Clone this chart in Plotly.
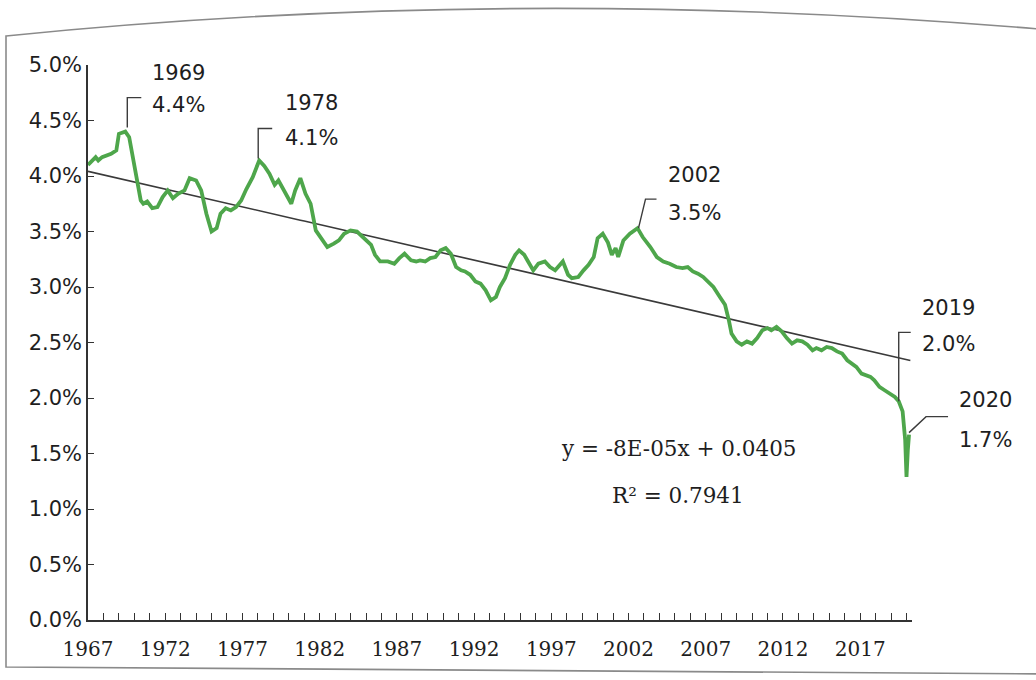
import pandas as pd
import plotly.graph_objects as go

# ---- data -------------------------------------------------------------
months = [
    "1967-01", "1967-07", "1967-09", "1967-12", "1968-07", "1968-11", "1969-01", "1969-06",
    "1969-09", "1969-12", "1970-03", "1970-06", "1970-08", "1970-11", "1971-03", "1971-07",
    "1971-11", "1972-03", "1972-07", "1972-11", "1973-04", "1973-08", "1974-01", "1974-05",
    "1974-09", "1975-01", "1975-05", "1975-08", "1975-12", "1976-04", "1976-08", "1976-12",
    "1977-04", "1977-09", "1978-02", "1978-06", "1978-10", "1979-02", "1979-05", "1979-09",
    "1980-03", "1980-06", "1980-10", "1981-02", "1981-06", "1981-10", "1982-02", "1982-07",
    "1982-12", "1983-04", "1983-08", "1984-01", "1984-06", "1984-11", "1985-05", "1985-08",
    "1985-12", "1986-06", "1986-11", "1987-03", "1987-07", "1987-12", "1988-04", "1988-07",
    "1988-11", "1989-03", "1989-07", "1989-11", "1990-03", "1990-07", "1990-11", "1991-03",
    "1991-06", "1991-10", "1992-02", "1992-06", "1992-10", "1993-02", "1993-06", "1993-09",
    "1994-01", "1994-05", "1994-09", "1994-12", "1995-04", "1995-07", "1995-11", "1996-03",
    "1996-08", "1996-12", "1997-04", "1997-10", "1998-02", "1998-05", "1998-10", "1999-02",
    "1999-06", "1999-10", "2000-01", "2000-05", "2000-09", "2000-12", "2001-03", "2001-05",
    "2001-09", "2002-02", "2002-08", "2002-12", "2003-06", "2003-11", "2004-04", "2004-09",
    "2005-02", "2005-07", "2005-11", "2006-03", "2006-07", "2006-11", "2007-03", "2007-07",
    "2007-12", "2008-04", "2008-07", "2008-09", "2009-01", "2009-05", "2009-09", "2010-01",
    "2010-05", "2010-09", "2011-01", "2011-04", "2011-08", "2011-12", "2012-04", "2012-08",
    "2012-12", "2013-04", "2013-08", "2013-12", "2014-03", "2014-07", "2014-11", "2015-03",
    "2015-07", "2015-11", "2016-03", "2016-07", "2016-10", "2017-02", "2017-05", "2017-09",
    "2017-12", "2018-04", "2018-08", "2018-12", "2019-04", "2019-07", "2019-10", "2019-12",
    "2020-01", "2020-02", "2020-03",
]
rate = [
    4.10, 4.17, 4.14, 4.17, 4.20, 4.23, 4.38, 4.40,
    4.35, 4.17, 3.99, 3.78, 3.75, 3.77, 3.71, 3.72,
    3.81, 3.87, 3.80, 3.84, 3.87, 3.98, 3.96, 3.87,
    3.66, 3.50, 3.53, 3.66, 3.71, 3.69, 3.72, 3.78,
    3.88, 3.99, 4.14, 4.09, 4.02, 3.92, 3.96, 3.87,
    3.75, 3.87, 3.98, 3.84, 3.75, 3.51, 3.44, 3.36,
    3.39, 3.42, 3.48, 3.51, 3.50, 3.45, 3.38, 3.29,
    3.23, 3.23, 3.21, 3.26, 3.30, 3.24, 3.23, 3.24,
    3.23, 3.26, 3.27, 3.33, 3.35, 3.30, 3.18, 3.15,
    3.14, 3.11, 3.05, 3.03, 2.97, 2.88, 2.91, 3.00,
    3.08, 3.20, 3.29, 3.33, 3.29, 3.23, 3.15, 3.21,
    3.23, 3.18, 3.15, 3.23, 3.11, 3.08, 3.09, 3.15,
    3.20, 3.27, 3.44, 3.48, 3.40, 3.29, 3.35, 3.27,
    3.42, 3.48, 3.53, 3.45, 3.36, 3.27, 3.23, 3.21,
    3.18, 3.17, 3.18, 3.14, 3.12, 3.09, 3.05, 3.00,
    2.91, 2.84, 2.70, 2.58, 2.51, 2.48, 2.51, 2.49,
    2.54, 2.61, 2.63, 2.61, 2.64, 2.60, 2.54, 2.49,
    2.52, 2.51, 2.48, 2.43, 2.45, 2.43, 2.46, 2.45,
    2.42, 2.40, 2.34, 2.30, 2.28, 2.22, 2.21, 2.19,
    2.16, 2.10, 2.07, 2.04, 2.01, 1.97, 1.88, 1.62,
    1.29, 1.53, 1.67,
]

# Linear trend as printed (x = quarter number starting at 1, y as a fraction)
trend_slope = -8e-05
trend_intercept = 0.0405
r_squared = 0.7941
trend_first_quarter = "1967Q1"
trend_last_quarter = "2020Q2"

tick_years = list(range(1967, 2018, 5))
y_ticks = [0.0, 0.5, 1.0, 1.5, 2.0, 2.5, 3.0, 3.5, 4.0, 4.5, 5.0]
callout_months = ["1969-06", "1978-02", "2002-08", "2019-07", "2020-03"]

# ---- geometry ---------------------------------------------------------
W, H = 1036, 680
ML, MR, MT, MB = 88, 124, 65, 60
PW, PH = W - ML - MR, H - MT - MB
X_RANGE = (pd.Timestamp("1967-01-01"), pd.Timestamp("2020-05-10"))
Y_RANGE = (0.0, 5.0)


def paper(px, py):
    return (px - ML) / PW, (H - MB - py) / PH


def data_to_px(t, v):
    fx = (t - X_RANGE[0]) / (X_RANGE[1] - X_RANGE[0])
    fy = (v - Y_RANGE[0]) / (Y_RANGE[1] - Y_RANGE[0])
    return ML + fx * PW, H - MB - fy * PH


def pt(px, py):
    return "{:.5f},{:.5f}".format(*paper(px, py))


GREEN = "#4ea64b"
INK = "#1e1e1e"
SANS = "DejaVu Sans"
SERIF = "DejaVu Serif"

series = pd.Series(rate, index=pd.to_datetime(months))

quarters = pd.period_range(trend_first_quarter, trend_last_quarter, freq="Q")
q_idx = list(range(1, len(quarters) + 1))
trend_vals = [(trend_intercept + trend_slope * i) * 100 for i in q_idx]
trend_dates = quarters.to_timestamp(how="start")

fig = go.Figure()
fig.add_trace(go.Scatter(
    x=trend_dates, y=trend_vals, mode="lines",
    line=dict(color="#3a3a3a", width=1.6), hoverinfo="skip", showlegend=False,
))
fig.add_trace(go.Scatter(
    x=series.index, y=series.values, mode="lines",
    line=dict(color=GREEN, width=3.8), showlegend=False,
))

# callout styles: leader vertices in pixels relative to the point (y down),
# and text offsets
callout_style = [
    dict(leader=[(2, -4), (2, -34), (16, -34)], dx=25, dy1=-59, dy2=-27),
    dict(leader=[(-1, -2), (-1, -32), (13, -32)], dx=24, dy1=-57, dy2=-22),
    dict(leader=[(1, 0), (8, -29), (19, -29)], dx=28, dy1=-53, dy2=-15),
    dict(leader=[(0, 0), (0, -69), (12, -69)], dx=21, dy1=-93, dy2=-57),
    dict(leader=[(0, -2), (17, -18), (39, -18)], dx=48, dy1=-35, dy2=5),
]

shapes = []
annotations = []
for m, st in zip(callout_months, callout_style):
    t = pd.Timestamp(m)
    v = float(series.loc[t])
    px, py = data_to_px(t, v)
    path = " ".join(("M " if i == 0 else "L ") + pt(px + ox, py + oy)
                    for i, (ox, oy) in enumerate(st["leader"]))
    shapes.append(dict(type="path", xref="paper", yref="paper", path=path,
                       line=dict(color="#3c3c3c", width=1.4)))
    for txt, dy in ((str(t.year), st["dy1"]), (f"{v:.1f}%", st["dy2"])):
        ax_, ay_ = paper(px + st["dx"], py + dy)
        annotations.append(dict(
            x=ax_, y=ay_, xref="paper", yref="paper", text=txt, showarrow=False,
            xanchor="left", yanchor="middle",
            font=dict(family=SANS, size=21, color=INK),
        ))

# trend equation
eq_x, eq_y = paper(679, 448)
annotations.append(dict(
    x=eq_x, y=eq_y, xref="paper", yref="paper", showarrow=False,
    text=f"y = {trend_slope:.0E}x + {trend_intercept:.4f}",
    font=dict(family=SERIF, size=21.5, color=INK), xanchor="center", yanchor="middle",
))
r_x, r_y = paper(678, 495)
annotations.append(dict(
    x=r_x, y=r_y, xref="paper", yref="paper", showarrow=False,
    text=f"R² = {r_squared:.4f}",
    font=dict(family=SERIF, size=21.5, color=INK), xanchor="center", yanchor="middle",
))

# chart-area frame
frame = "M {} Q {} {} L {} L {} Z".format(
    pt(6, 36), pt(520, -16), pt(1050, 30), pt(1050, 674), pt(6, 667),
)
shapes.append(dict(type="path", xref="paper", yref="paper", path=frame,
                   line=dict(color="#8a8a8a", width=1.6), layer="below"))

fig.update_layout(
    width=W, height=H,
    margin=dict(l=ML, r=MR, t=MT, b=MB),
    paper_bgcolor="white", plot_bgcolor="white",
    shapes=shapes, annotations=annotations,
    xaxis=dict(
        type="date",
        range=[X_RANGE[0], X_RANGE[1]],
        tickvals=[f"{y}-01-01" for y in tick_years],
        ticktext=[str(y) for y in tick_years],
        ticks="inside", ticklen=7, tickwidth=1.3, tickcolor="#333",
        minor=dict(dtick="M12", tick0="1967-01-01", ticks="inside",
                   ticklen=7, tickwidth=1.3, tickcolor="#333"),
        showline=True, linecolor="#333", linewidth=1.6,
        showgrid=False, zeroline=False,
        tickfont=dict(family=SERIF, size=20, color=INK),
        ticklabelstandoff=10,
    ),
    yaxis=dict(
        range=list(Y_RANGE),
        tickvals=y_ticks,
        ticktext=[f"{v:.1f}%" for v in y_ticks],
        ticks="inside", ticklen=6, tickwidth=1.3, tickcolor="#333",
        showline=True, linecolor="#333", linewidth=1.6,
        showgrid=False, zeroline=False,
        tickfont=dict(family=SANS, size=21, color=INK),
        ticklabelstandoff=0,
    ),
)

fig.write_html("out.html")
